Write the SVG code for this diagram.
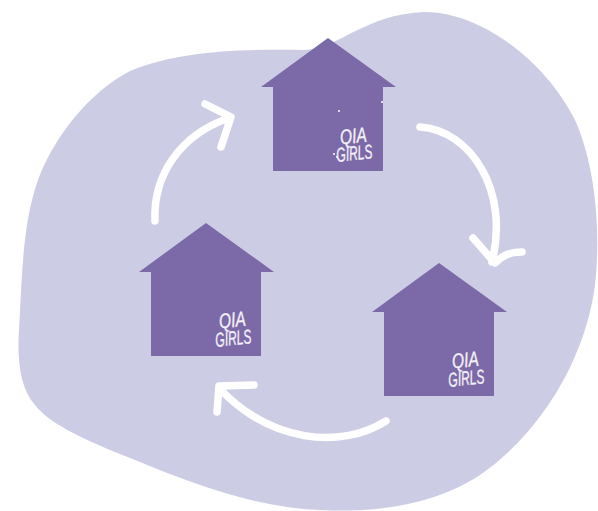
<svg xmlns="http://www.w3.org/2000/svg" width="598" height="511" viewBox="0 0 598 511">
<style>
.house{fill:#7c6aa8}
.arrow{fill:none;stroke:#fff;stroke-width:7.5;stroke-linecap:round;stroke-linejoin:round}
.logo{font-family:"Liberation Sans",sans-serif;font-style:italic;font-size:20px;fill:#f4f2f8;stroke:#f4f2f8;stroke-width:.3;text-anchor:middle}
</style>
<defs>
<path id="h" d="M0 49L67 0L135 49H122V133H12V49Z" class="house"/>
</defs>
<path id="blob" fill="#cccce4" d="M305 50C340 48 365 14 425 12C480 12 545 60 575 120C595 165 600 225 596 275C590 350 545 430 480 475C435 505 375 513 320 510C260 508 200 487 130 458C90 442 50 425 35 405C20 388 17 360 19 330C22 280 22 225 38 180C55 135 90 92 130 71C180 50 245 49 305 50Z"/>
<g id="connectors">
<path class="arrow" d="M155 221C153 175 180 135 229 118M205 104L231 117L221 147"/>
<path class="arrow" d="M420 127C470 130 510 190 492 262M473 238L495 263C503 255 510 252 522 252"/>
<path class="arrow" d="M386 421C340 450 270 442 219 388M217 412L219 386L254 385"/>
</g>
<g id="house-top"><use href="#h" x="261" y="38"/>
<text class="logo" transform="translate(354 143) rotate(-6) scale(.78 1.05)">QIA</text><text class="logo" transform="translate(355 160) rotate(-6) scale(.6 1)">GIRLS</text>
<circle cx="339" cy="111" r="1" fill="#fff"/><circle cx="382" cy="102" r="1" fill="#fff"/><circle cx="334" cy="154" r="1" fill="#fff"/><circle cx="337" cy="157" r="1" fill="#fff"/></g>
<g id="house-left"><use href="#h" x="139" y="223"/>
<text class="logo" transform="translate(233 327) rotate(-6) scale(.78 1.05)">QIA</text><text class="logo" transform="translate(234 345) rotate(-6) scale(.6 1)">GIRLS</text></g>
<g id="house-right"><use href="#h" x="372" y="263"/>
<text class="logo" transform="translate(466 367) rotate(-6) scale(.78 1.05)">QIA</text><text class="logo" transform="translate(467 385) rotate(-6) scale(.6 1)">GIRLS</text></g>
</svg>
